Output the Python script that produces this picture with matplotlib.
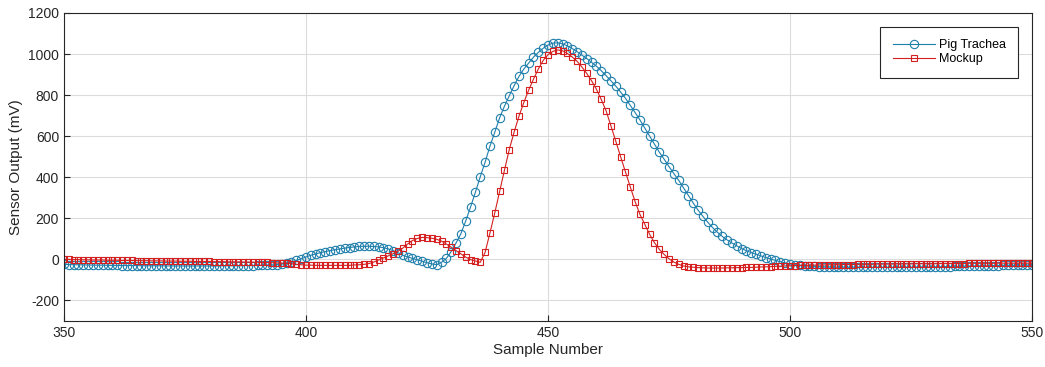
import numpy as np
import matplotlib.pyplot as plt

plt.rcParams['font.family'] = ['Liberation Sans', 'DejaVu Sans']
plt.rcParams['axes.unicode_minus'] = False

# sample numbers 350..550
samples = np.arange(350, 551)

# Pig Trachea readings (mV), one per sample
pig_trachea = [
    -24, -25, -26, -26, -27, -27, -28, -28, -28, -29,
    -29, -29, -30, -30, -30, -30, -31, -31, -31, -31,
    -31, -32, -32, -32, -32, -32, -32, -32, -32, -32,
    -32, -32, -32, -31, -31, -31, -31, -30, -30, -30,
    -29, -29, -28, -27, -25, -22, -18, -12, -5, 3,
    12, 20, 27, 33, 38, 43, 47, 51, 55, 58,
    61, 63, 64, 64, 63, 61, 57, 51, 43, 33,
    20, 12, 5, -2, -9, -16, -22, -26, -14, 5,
    38, 80, 125, 187, 255, 327, 402, 473, 551, 619,
    689, 746, 797, 846, 891, 927, 956, 985, 1008, 1028,
    1044, 1053, 1055, 1050, 1040, 1027, 1012, 995, 978, 960,
    941, 919, 895, 870, 844, 815, 785, 750, 715, 679,
    640, 600, 562, 522, 488, 452, 418, 385, 348, 310,
    275, 240, 210, 181, 155, 132, 112, 95, 80, 66,
    53, 42, 33, 25, 17, 9, 2, -5, -11, -17,
    -22, -26, -29, -31, -33, -34, -35, -36, -37, -37,
    -38, -38, -38, -38, -39, -39, -39, -39, -39, -39,
    -39, -39, -38, -38, -38, -38, -38, -37, -37, -37,
    -36, -36, -35, -35, -34, -34, -33, -33, -32, -32,
    -31, -31, -30, -30, -29, -29, -29, -28, -28, -28,
    -27,
]

# Mockup readings (mV), one per sample
mockup = [
    0, 0, -1, -1, -2, -2, -3, -3, -3, -4,
    -4, -4, -5, -5, -5, -6, -6, -6, -7, -7,
    -7, -8, -8, -8, -9, -9, -9, -10, -10, -10,
    -10, -11, -11, -11, -12, -12, -12, -13, -13, -14,
    -14, -15, -15, -16, -17, -18, -19, -21, -24, -26,
    -28, -28, -29, -29, -29, -29, -29, -29, -29, -29,
    -27, -26, -24, -20, -13, -3, 7, 17, 28, 40,
    55, 75, 92, 102, 107, 106, 103, 98, 89, 75,
    59, 43, 27, 11, -1, -8, -14, 34, 128, 226,
    331, 434, 535, 620, 697, 764, 824, 878, 927, 969,
    997, 1013, 1020, 1016, 1003, 986, 965, 937, 906, 870,
    829, 779, 724, 650, 576, 500, 426, 353, 281, 219,
    170, 122, 81, 49, 24, 3, -13, -24, -32, -36,
    -38, -40, -41, -42, -42, -42, -42, -41, -41, -40,
    -40, -39, -39, -38, -37, -36, -35, -34, -33, -32,
    -31, -30, -29, -29, -28, -28, -27, -27, -26, -26,
    -26, -25, -25, -25, -24, -24, -24, -24, -23, -23,
    -23, -23, -22, -22, -22, -22, -21, -21, -21, -21,
    -21, -20, -20, -20, -20, -20, -20, -19, -19, -19,
    -19, -19, -19, -18, -18, -18, -18, -18, -18, -18,
    -18,
]

blue = '#1f7fab'
red = '#d42020'

fig = plt.figure(figsize=(10.45, 3.67), dpi=100)
ax = fig.add_axes([0.0612, 0.1253, 0.9264, 0.8393])

ax.plot(samples, pig_trachea, color=blue, lw=0.8, marker='o', ms=6,
        mfc='none', mec=blue, mew=0.8, label='Pig Trachea')
ax.plot(samples, mockup, color=red, lw=0.8, marker='s', ms=5,
        mfc='none', mec=red, mew=0.8, label='Mockup')

ax.set_xlim(350, 550)
ax.set_ylim(-300, 1200)
ax.set_xticks(np.arange(350, 551, 50))
ax.set_yticks(np.arange(-200, 1201, 200))
ax.grid(True, color='#dcdcdc', lw=0.8)
ax.set_axisbelow(True)
ax.tick_params(direction='in', length=4, labelsize=10, colors='#262626')
for s in ax.spines.values():
    s.set_color('#262626')
    s.set_linewidth(0.8)

ax.set_xlabel('Sample Number', fontsize=11, color='#262626', labelpad=2)
ax.set_ylabel('Sensor Output (mV)', fontsize=11, color='#262626', labelpad=4)

# legend box roughly 895-1017 px wide, 27-82 px tall in the reference
leg = ax.legend(loc='upper right', bbox_to_anchor=(0.986, 0.955), fontsize=9,
                fancybox=False, framealpha=1, edgecolor='#262626',
                handlelength=3.4, handletextpad=0.3, borderpad=1.0,
                borderaxespad=0, labelspacing=0.15)
leg.get_frame().set_linewidth(0.8)

fig.savefig('out.png', dpi=100)
